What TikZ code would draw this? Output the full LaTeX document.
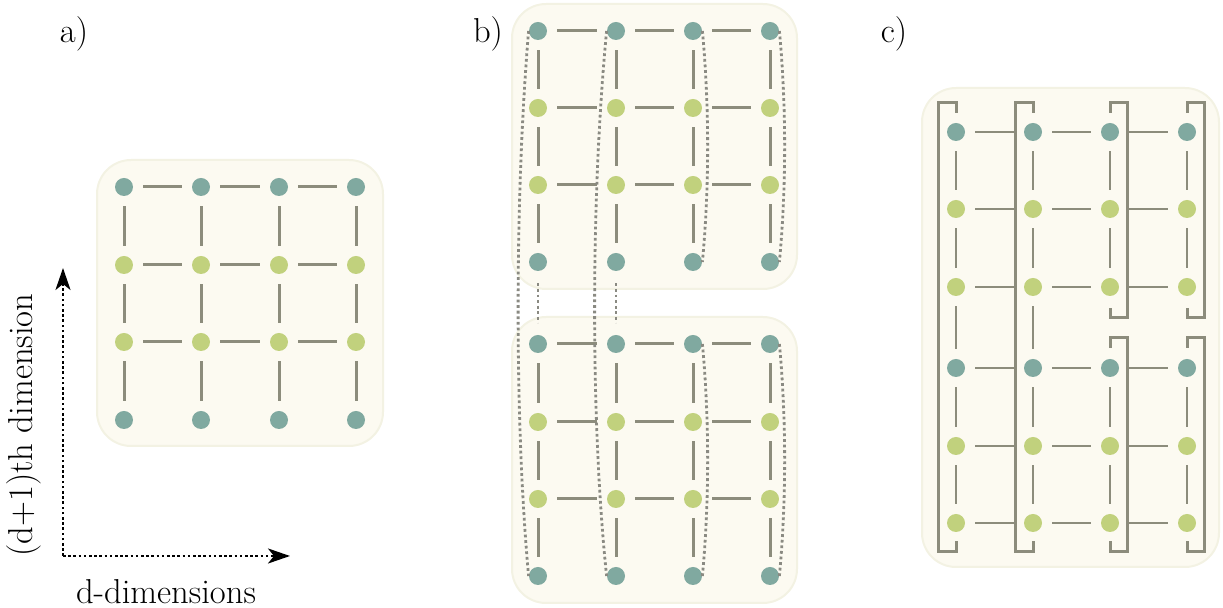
\documentclass[tikz,border=0pt]{standalone}
\usetikzlibrary{calc,arrows.meta}

\definecolor{dotteal}{HTML}{80A9A0}
\definecolor{dotgreen}{HTML}{C1D17D}
\definecolor{edgegray}{HTML}{8C8C7C}
\definecolor{trailgray}{HTML}{8A8A82}
\definecolor{panelfill}{HTML}{FCFAF1}
\definecolor{paneledge}{HTML}{F3F2E3}

\begin{document}
\begin{tikzpicture}[x=0.5pt,y=-0.5pt,
  site/.style={circle,inner sep=0pt,minimum size=9pt},
  tsite/.style={site,fill=dotteal},
  gsite/.style={site,fill=dotgreen},
  bond/.style={draw=edgegray,line width=1.5pt,shorten >=5pt,shorten <=5pt},
  panel/.style={fill=panelfill,draw=paneledge,line width=1pt,rounded corners=17pt},
  trail/.style={draw=trailgray,line width=1.4pt,dash pattern=on 1.4pt off 1.4pt},
  wall/.style={draw=edgegray,line width=1.5pt},
  axis/.style={draw=black,line width=1.3pt,dash pattern=on 1.3pt off 1.3pt,
    -{Stealth[length=11pt,width=7.5pt,inset=3pt]}},
  tag/.style={font=\fontsize{17.3}{20}\selectfont,inner sep=0pt}]

\useasboundingbox (0,0) rectangle (1223,608);

% ---------- backgrounds ----------
\path[panel] (97,160) rectangle (383,446);
\path[panel] (512,4) rectangle (797,289);
\path[panel] (512,317) rectangle (797,603);
\path[panel] (922,88) rectangle (1219,567);

% ---------- panel a: square lattice ----------
\foreach \y/\s [count=\r] in {187/tsite,265/gsite,342/gsite,420/tsite}
  \foreach \x [count=\c] in {124,201,279,356}
    \node[\s] (a\r\c) at (\x,\y) {};
\foreach \r in {1,...,3}
  \foreach \c/\n in {1/2,2/3,3/4}
    \draw[bond] (a\r\c) -- (a\r\n);
\foreach \c in {1,...,4}
  \foreach \r/\n in {1/2,2/3,3/4}
    \draw[bond] (a\r\c) -- (a\n\c);

% ---------- panel b: two blocks ----------
\foreach \y/\s [count=\r] in {31/tsite,108/gsite,185/gsite,262/tsite}
  \foreach \x [count=\c] in {538,616,693,770}
    \node[\s] (bt\r\c) at (\x,\y) {};
\foreach \y/\s [count=\r] in {344/tsite,422/gsite,499/gsite,576/tsite}
  \foreach \x [count=\c] in {538,616,693,770}
    \node[\s] (bb\r\c) at (\x,\y) {};
\foreach \blk in {bt,bb}{
  \foreach \r in {1,...,3}
    \foreach \c/\n in {1/2,2/3,3/4}
      \draw[bond] (\blk\r\c) -- (\blk\r\n);
  \foreach \c in {1,...,4}
    \foreach \r/\n in {1/2,2/3,3/4}
      \draw[bond] (\blk\r\c) -- (\blk\n\c);
}
% dotted paths threading the columns
\draw[trail] (bt11.west) .. controls +(-14,168) and +(-14,-153) .. (bb41.west);
\draw[trail] (bt12.west) .. controls +(-16,168) and +(-16,-153) .. (bb42.west);
\foreach \blk in {bt,bb}{
  \draw[trail] (\blk13.east) .. controls +(7,75) and +(7,-75) .. (\blk43.east);
  \draw[trail] (\blk14.east) .. controls +(7,75) and +(7,-75) .. (\blk44.east);
}
\draw[trail,shorten >=6pt,shorten <=6pt] (bt41) -- (bb11);
\draw[trail,shorten >=6pt,shorten <=6pt] (bt42) -- (bb12);

% ---------- panel c: lattice with boundary walls ----------
\foreach \y/\s [count=\r] in {132/tsite,209/gsite,287/gsite,368/tsite,446/gsite,523/gsite}
  \foreach \x [count=\c] in {956,1033,1110,1187}
    \node[\s] (c\r\c) at (\x,\y) {};
\foreach \r in {1,...,6}
  \foreach \c/\n in {1/2,2/3,3/4}
    \draw[bond,line width=1.35pt] (c\r\c) -- (c\r\n);
\foreach \c in {1,2}
  \foreach \r/\n in {1/2,2/3,3/4,4/5,5/6}
    \draw[bond,line width=1.35pt] (c\r\c) -- (c\n\c);
\foreach \c in {3,4}
  \foreach \r/\n in {1/2,2/3,4/5,5/6}
    \draw[bond,line width=1.35pt] (c\r\c) -- (c\n\c);
% walls on the left of columns 1 and 2
\foreach \c in {1,2}
  \draw[wall] ($(c1\c)+(0,-19)$) -- ++(0,-10) -- ++(-18,0)
    -- ($(c6\c)+(-18,29)$) -- ++(18,0) -- ++(0,-11);
% walls on the right of columns 3 and 4
\foreach \c in {3,4}{
  \draw[wall] ($(c1\c)+(0,-19)$) -- ++(0,-10) -- ++(17,0)
    -- ($(c3\c)+(17,31)$) -- ++(-17,0) -- ++(0,-10);
  \draw[wall] ($(c4\c)+(0,-20)$) -- ++(0,-10) -- ++(17,0)
    -- ($(c6\c)+(17,29)$) -- ++(-17,0) -- ++(0,-11);
}

% ---------- axes ----------
\coordinate (origin) at (63,556);
\coordinate (uptip) at (63,268);
\coordinate (righttip) at (290,556);
\draw[axis] (origin) -- (uptip);
\draw[axis] (origin) -- (righttip);
\node[tag,rotate=90] (ylab) at (24,425) {(d+1)th dimension};
\node[tag] (xlab) at (166,592) {d-dimensions};

% ---------- panel labels ----------
\node[tag] (la) at (74,34) {a)};
\node[tag] (lb) at (488,34) {b)};
\node[tag] (lc) at (894,34) {c)};
\end{tikzpicture}
\end{document}
